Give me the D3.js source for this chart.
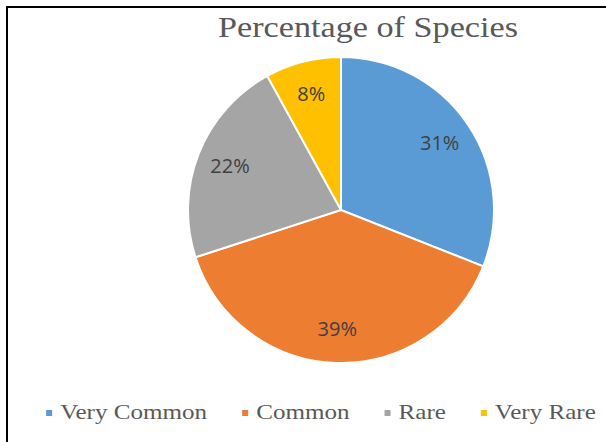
<html>
<script src="https://d3js.org/d3.v7.min.js"></script>
<style>
    body { margin: 0; background: #fff; }
    svg { display: block; }
</style>
<svg width=606 height=442></svg>
<script>
    // data
    let categories = ['Very Common', 'Common', 'Rare', 'Very Rare'];
    let values = [31, 39, 22, 8];
    let colors = ['#5B9BD5', '#ED7D31', '#A5A5A5', '#FFC000'];
    let title = 'Percentage of Species';

    let svg = d3.select('svg'),
        width = +svg.attr('width'),
        height = +svg.attr('height');

    let stretch = 1.14; // text in the picture is a bit wider than normal

    // frame (only top and left edges show)
    svg.append('path')
        .attr('d', 'M7,' + (height + 5) + 'V7H' + (width + 5))
        .attr('fill', 'none')
        .attr('stroke', '#000')
        .attr('stroke-width', 2);

    let t = svg.append('text')
        .attr('x', 368)
        .attr('y', 37)
        .attr('text-anchor', 'middle')
        .style('font-family', '"Liberation Serif", serif')
        .style('font-size', '30px')
        .attr('fill', '#595959')
        .text(title);
    t.attr('textLength', t.node().getComputedTextLength() * stretch)
        .attr('lengthAdjust', 'spacingAndGlyphs');

    // pie
    let cx = 341, cy = 210, r = 153;
    let g = svg.append('g').attr('transform', 'translate(' + cx + ',' + cy + ')');

    let pie = d3.pie().sort(null).value(d => d.v);
    let data = pie(categories.map((c, i) => ({ c: c, v: values[i], col: colors[i] })));

    let arc = d3.arc().innerRadius(0).outerRadius(r);
    let labelArc = d3.arc().innerRadius(r * 0.78).outerRadius(r * 0.78);

    g.selectAll('.slice')
        .data(data)
      .enter()
        .append('path')
        .attr('class', 'slice')
        .attr('d', arc)
        .attr('fill', d => d.data.col)
        .attr('stroke', '#fff')
        .attr('stroke-width', 2);

    g.selectAll('.lbl')
        .data(data)
      .enter()
        .append('text')
        .attr('class', 'lbl')
        .attr('transform', d => 'translate(' + labelArc.centroid(d) + ')')
        .attr('text-anchor', 'middle')
        .attr('dy', '0.35em')
        .style('font-family', '"Open Sans", sans-serif')
        .style('font-size', '20px')
        .attr('fill', '#404040')
        .text(d => d.data.v + '%');

    // legend
    let legend = svg.append('g');
    let x = 0, gap = 35, box = 6, pad = 8;
    categories.forEach((c, i) => {
        let item = legend.append('g');
        item.append('rect')
            .attr('x', x).attr('y', -9)
            .attr('width', box).attr('height', box)
            .attr('fill', colors[i]);
        let tx = item.append('text')
            .attr('x', x + box + pad)
            .attr('y', 0)
            .style('font-family', '"Liberation Serif", serif')
            .style('font-size', '22px')
            .attr('fill', '#595959')
            .text(c);
        let w = tx.node().getComputedTextLength() * stretch;
        tx.attr('textLength', w).attr('lengthAdjust', 'spacingAndGlyphs');
        x += box + pad + w + gap;
    });
    let total = x - gap;
    legend.attr('transform', 'translate(' + (321 - total / 2) + ',419)');
</script>
</html>
